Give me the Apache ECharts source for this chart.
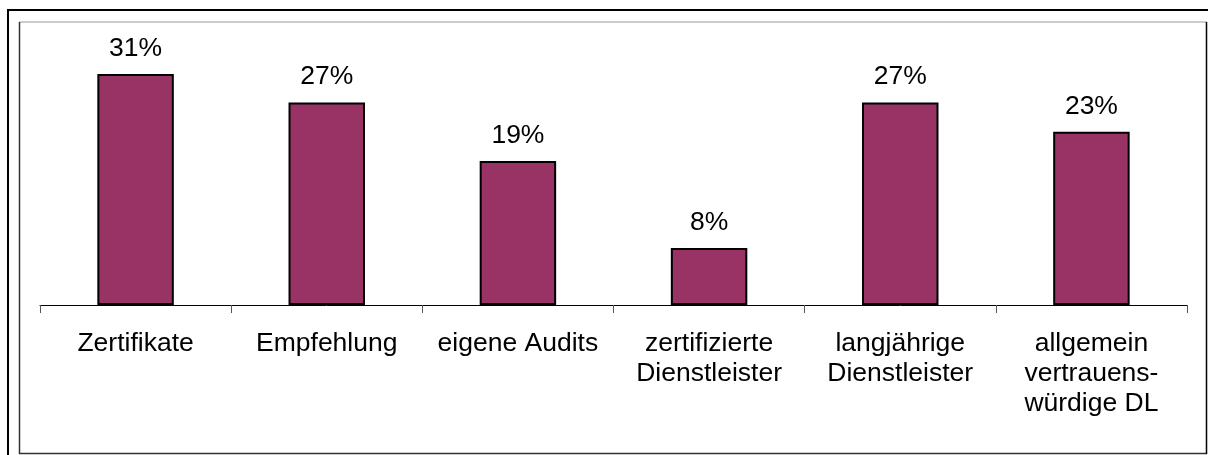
<!DOCTYPE html>
<html>
<head>
<meta charset="utf-8">
<script src="https://cdn.jsdelivr.net/npm/echarts@6/dist/echarts.min.js"></script>
<style>
  html, body { margin: 0; padding: 0; background: #fff; }
  #chart { width: 1208px; height: 455px; }
</style>
</head>
<body>
<div id="chart"></div>
<script>
// Kategorien und Anteile (in %)
var categories = ['Zertifikate', 'Empfehlung', 'eigene Audits', 'zertifizierte\nDienstleister', 'langjährige\nDienstleister', 'allgemein\nvertrauens-\nwürdige DL'];
var shares = [30.8, 27, 19.2, 7.6, 27, 23.1];

var myChart = echarts.init(document.getElementById('chart'));

var option = {
    animation: false,
    backgroundColor: '#fff',
    textStyle: { fontFamily: 'Liberation Sans, Arial, sans-serif' },
    graphic: [
        // äußerer Rahmen
        { type: 'polyline', shape: { points: [[8, 455], [8, 10], [1208, 10]] },
          style: { stroke: '#000', lineWidth: 2, fill: null } },
        // innerer Rahmen
        { type: 'line', shape: { x1: 19, y1: 22, x2: 1207, y2: 22 }, style: { stroke: '#999', lineWidth: 1 } },
        { type: 'line', shape: { x1: 19.5, y1: 22, x2: 19.5, y2: 454 }, style: { stroke: '#333', lineWidth: 1.5 } },
        { type: 'line', shape: { x1: 19, y1: 453.5, x2: 1207, y2: 453.5 }, style: { stroke: '#333', lineWidth: 1.5 } },
        { type: 'line', shape: { x1: 1206.5, y1: 22, x2: 1206.5, y2: 454 }, style: { stroke: '#000', lineWidth: 1.5 } }
    ],
    grid: { left: 40, right: 21, top: 5, bottom: 150 },
    xAxis: {
        type: 'category',
        data: categories,
        axisLine: { lineStyle: { color: '#000', width: 1 } },
        axisTick: { show: true, length: 8, lineStyle: { color: '#555' } },
        axisLabel: {
            color: '#000',
            fontSize: 26.5,
            lineHeight: 30,
            margin: 24,
            interval: 0
        }
    },
    yAxis: {
        type: 'value',
        min: 0,
        max: 40,
        show: false
    },
    series: [
        {
            type: 'bar',
            data: shares,
            barWidth: '40%',
            itemStyle: { color: '#993366', borderColor: '#000', borderWidth: 2 },
            label: {
                show: true,
                position: 'top',
                distance: 12,
                color: '#000',
                fontSize: 26.5,
                formatter: function (p) { return Math.round(p.value) + '%'; }
            }
        }
    ]
};

myChart.setOption(option);
</script>
</body>
</html>
